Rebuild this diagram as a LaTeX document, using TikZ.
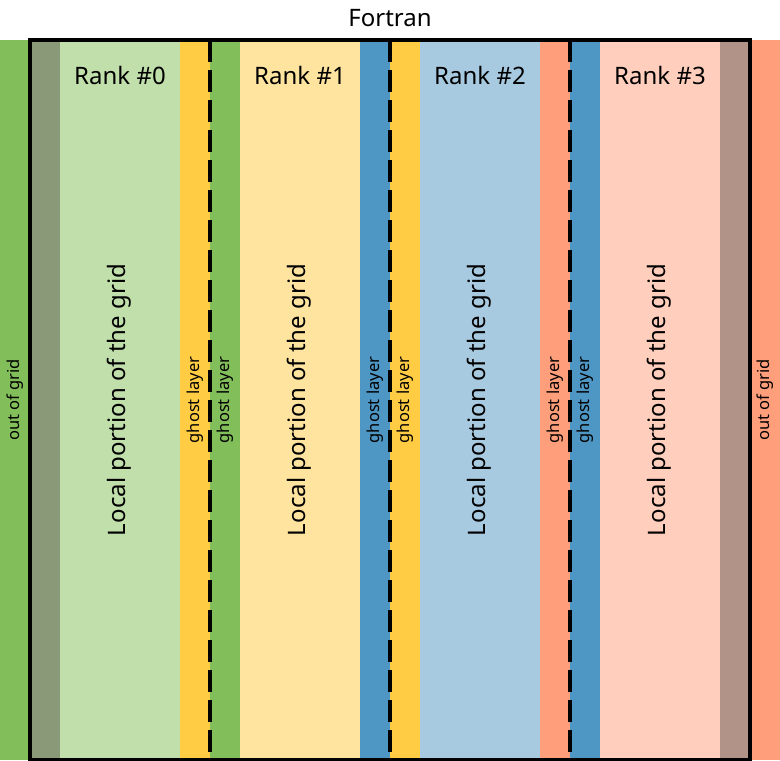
\documentclass[tikz,border=0pt]{standalone}
\usepackage{fontspec}
\setmainfont{Noto Sans}
\definecolor{cgreen}{RGB}{130,190,90}
\definecolor{clgreen}{RGB}{193,223,171}
\definecolor{cyellow}{RGB}{255,204,68}
\definecolor{clyellow}{RGB}{255,228,160}
\definecolor{cblue}{RGB}{78,150,195}
\definecolor{clblue}{RGB}{168,202,225}
\definecolor{csalmon}{RGB}{255,158,122}
\definecolor{clsalmon}{RGB}{255,206,188}
\definecolor{cgraygreen}{RGB}{138,154,120}
\definecolor{cbrown}{RGB}{178,147,135}
\tikzset{
  strip/.style={inner sep=0pt, outer sep=0pt, minimum height=720pt, anchor=north west},
  narrow/.style={strip, minimum width=30pt},
  wide/.style={strip, minimum width=120pt},
  ranklbl/.style={font=\fontsize{24}{28}\selectfont, anchor=center},
  locallbl/.style={font=\fontsize{24}{28}\selectfont, rotate=90, anchor=center},
  smalllbl/.style={font=\fontsize{16.5}{19}\selectfont, rotate=90, anchor=center},
  divider/.style={line width=3.5pt, dash pattern=on 22pt off 8pt},
}
\begin{document}
\begin{tikzpicture}[x=1pt,y=-1pt]
\useasboundingbox (0,0) rectangle (780,761);
% strips
\node[narrow, fill=cgreen] (og0) at (0,40) {};
\node[narrow, fill=cgraygreen] (ov0) at (30,40) {};
\node[wide, fill=clgreen] (r0) at (60,40) {};
\node[narrow, fill=cyellow] (g01) at (180,40) {};
\node[narrow, fill=cgreen] (g10) at (210,40) {};
\node[wide, fill=clyellow] (r1) at (240,40) {};
\node[narrow, fill=cblue] (g12) at (360,40) {};
\node[narrow, fill=cyellow] (g21) at (390,40) {};
\node[wide, fill=clblue] (r2) at (420,40) {};
\node[narrow, fill=csalmon] (g23) at (540,40) {};
\node[narrow, fill=cblue] (g32) at (570,40) {};
\node[wide, fill=clsalmon] (r3) at (600,40) {};
\node[narrow, fill=cbrown] (ov3) at (720,40) {};
\node[narrow, fill=csalmon] (og3) at (750,40) {};
% title
\node[font=\fontsize{24}{28}\selectfont] (title) at (390,18) {Fortran};
% frame
\coordinate (fa) at (30,40);
\coordinate (fb) at (750,759.5);
\draw[line width=3.5pt] (fa) rectangle (fb);
% dividers
\draw[divider] (g10.north west) -- (g10.south west);
\draw[divider] (g21.north west) -- (g21.south west);
\draw[divider] (g32.north west) -- (g32.south west);
% labels
\node[ranklbl] (l0) at (120,75) {Rank \#0};
\node[ranklbl] (l1) at (300,75) {Rank \#1};
\node[ranklbl] (l2) at (480,75) {Rank \#2};
\node[ranklbl] (l3) at (660,75) {Rank \#3};
\node[locallbl] (p0) at (119,400) {Local portion of the grid};
\node[locallbl] (p1) at (299,400) {Local portion of the grid};
\node[locallbl] (p2) at (479,400) {Local portion of the grid};
\node[locallbl] (p3) at (659,400) {Local portion of the grid};
\node[smalllbl] at (og0) {out of grid};
\node[smalllbl] at (og3) {out of grid};
\node[smalllbl] at (g01) {ghost layer};
\node[smalllbl] at (g10) {ghost layer};
\node[smalllbl] at (g12) {ghost layer};
\node[smalllbl] at (g21) {ghost layer};
\node[smalllbl] at (g23) {ghost layer};
\node[smalllbl] at (g32) {ghost layer};
\end{tikzpicture}
\end{document}
